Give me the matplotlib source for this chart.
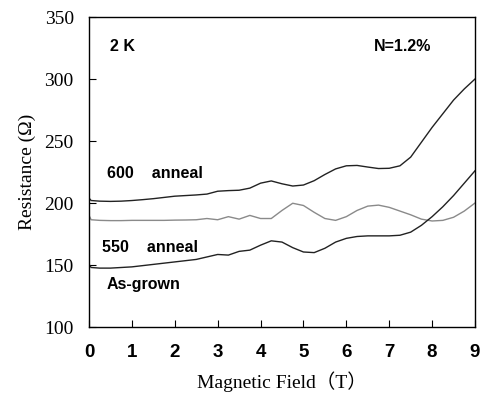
import matplotlib.pyplot as plt

# magnetic field (T)
field = [0.0, 0.05, 0.25, 0.5, 0.75, 1.0, 1.25, 1.5, 1.75, 2.0, 2.25, 2.5, 2.75,
         3.0, 3.25, 3.5, 3.75, 4.0, 4.25, 4.5, 4.75, 5.0, 5.25, 5.5, 5.75,
         6.0, 6.25, 6.5, 6.75, 7.0, 7.25, 7.5, 7.75, 8.0, 8.25, 8.5, 8.75, 9.0]

# resistance (ohm) of the three samples
r_600 = [204, 202, 201.5, 201.3, 201.5, 202, 202.7, 203.5, 204.5, 205.5, 206, 206.5, 207.2,
         209.5, 210, 210.3, 212, 216, 217.8, 215.5, 213.7, 214.5, 218, 223, 227.5,
         230, 230.3, 229, 227.8, 228, 230, 237, 249, 261, 272, 283, 292, 300]
r_550 = [190, 186.5, 186, 185.8, 185.8, 186, 186, 186, 186, 186.2, 186.3, 186.5, 187.5,
         186.5, 189, 187, 190, 187.5, 187.5, 194, 199.8, 198, 192.5, 187.5, 186,
         189, 194, 197.5, 198.3, 196.5, 193.5, 190.5, 187, 185.5, 186, 188.5, 193.5, 200]
r_asgrown = [150.5, 148, 147.5, 147.5, 148, 148.5, 149.5, 150.5, 151.5, 152.5, 153.5, 154.5, 156.5,
             158.5, 158, 161, 162, 166, 169.5, 168.5, 164, 160.5, 160, 163.5, 168.5,
             171.5, 173, 173.5, 173.5, 173.5, 174, 176.5, 182, 189, 197, 206, 216, 226]

xticks = [0, 1, 2, 3, 4, 5, 6, 7, 8, 9]
yticks = [100, 150, 200, 250, 300, 350]

fig = plt.figure(figsize=(4.8, 4.01), dpi=100)
ax = fig.add_axes([0.1854, 0.1845, 0.8042, 0.7731])

ax.plot(field, r_600, color='#222222', lw=1.0)
ax.plot(field, r_550, color='#8a8a8a', lw=1.0)
ax.plot(field, r_asgrown, color='#222222', lw=1.0)

ax.set_xlim(0, 9)
ax.set_ylim(100, 350)
ax.set_xticks(xticks)
ax.set_yticks(yticks)
ax.tick_params(direction='in', length=5, width=0.8, top=False, right=False)
ax.tick_params(axis='x', pad=12)
ax.tick_params(axis='y', pad=11)
for lab in ax.get_xticklabels():
    lab.set_family('Liberation Sans')
    lab.set_fontweight('bold')
    lab.set_fontsize(13.5)
for lab in ax.get_yticklabels():
    lab.set_family('Liberation Serif')
    lab.set_fontsize(14)
for sp in ax.spines.values():
    sp.set_linewidth(1.0)

ax.set_xlabel('Magnetic Field（T）', fontsize=14,
              family=['Liberation Serif', 'Noto Sans CJK JP'], labelpad=8)
ax.set_ylabel('Resistance (Ω)', fontsize=14, family='Liberation Serif', labelpad=6)

bold = dict(fontsize=11.5, fontweight='bold', family='Liberation Sans', va='center', ha='left')
ax.text(0.49, 326.6, '2 K', **bold)
ax.text(6.64, 326.6, 'N=1.2%', **bold)
ax.text(0.42, 223.4, '600    anneal', **bold)
ax.text(0.30, 164.5, '550    anneal', **bold)
ax.text(0.42, 133.9, 'As-grown', **bold)

plt.savefig('out.png', dpi=100)
